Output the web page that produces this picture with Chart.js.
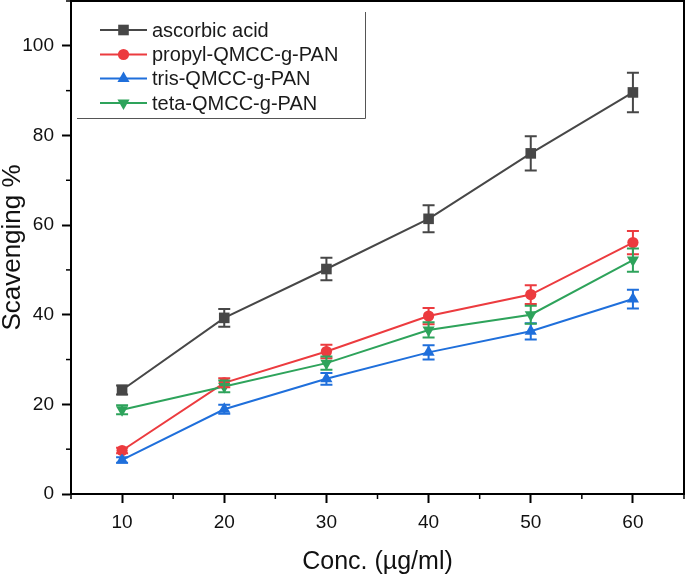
<!DOCTYPE html>
<html>
<head>
<meta charset="utf-8">
<script src="https://cdn.jsdelivr.net/npm/chart.js@4/dist/chart.umd.min.js"></script>
<style>
html,body{margin:0;padding:0;background:#fff;}
#wrap{width:685px;height:578px;}
</style>
</head>
<body>
<div id="wrap"><canvas id="c" width="685" height="578"></canvas></div>
<script>
const conc = [10, 20, 30, 40, 50, 60];
const ascorbic = [23.2, 39.3, 50.2, 61.4, 76.0, 89.6];
const ascorbicErr = [1.0, 2.0, 2.5, 3.0, 3.8, 4.4];
const propyl = [9.7, 24.8, 31.8, 39.7, 44.5, 56.1];
const propylErr = [0.6, 1.0, 1.5, 1.8, 2.1, 2.6];
const tris = [7.6, 18.9, 25.7, 31.6, 36.3, 43.5];
const trisErr = [0.6, 1.0, 1.3, 1.6, 1.8, 2.1];
const teta = [18.8, 24.0, 29.2, 36.6, 40.0, 52.2];
const tetaErr = [1.0, 1.3, 1.5, 1.7, 2.0, 2.6];
const seriesNames = ['ascorbic acid', 'propyl-QMCC-g-PAN', 'tris-QMCC-g-PAN', 'teta-QMCC-g-PAN'];
const xTitle = 'Conc. (\u00b5g/ml)';
const yTitle = 'Scavenging %';

const colors = ['#474747', '#ec3b3f', '#1f6fdb', '#2ea35b'];
const styles = ['rect', 'circle', 'triangle', 'triangle'];
const rotations = [0, 0, 0, 180];
const radii = [7.5, 5.6, 7, 7];
const values = [ascorbic, propyl, tris, teta];
const errors = [ascorbicErr, propylErr, trisErr, tetaErr];
const FONT = '"Liberation Sans", Arial, sans-serif';

const datasets = values.map((v, i) => ({
  label: seriesNames[i],
  data: conc.map((x, j) => ({x: x, y: v[j]})),
  errs: errors[i],
  borderColor: colors[i],
  backgroundColor: colors[i],
  pointBackgroundColor: colors[i],
  pointBorderColor: colors[i],
  pointStyle: styles[i],
  pointRotation: rotations[i],
  pointRadius: radii[i],
  pointBorderWidth: 0,
  borderWidth: 2,
  tension: 0,
  order: 4 - i
}));

function drawMarker(ctx, style, x, y, r, rot, color) {
  ctx.save();
  ctx.fillStyle = color;
  ctx.translate(x, y);
  ctx.rotate(rot * Math.PI / 180);
  ctx.beginPath();
  if (style === 'rect') {
    const s = Math.SQRT1_2 * r;
    ctx.rect(-s, -s, 2 * s, 2 * s);
  } else if (style === 'circle') {
    ctx.arc(0, 0, r, 0, Math.PI * 2);
  } else {
    ctx.moveTo(0, -r);
    ctx.lineTo(r * Math.sin(Math.PI * 2 / 3), -r * Math.cos(Math.PI * 2 / 3));
    ctx.lineTo(r * Math.sin(Math.PI * 4 / 3), -r * Math.cos(Math.PI * 4 / 3));
    ctx.closePath();
  }
  ctx.fill();
  ctx.restore();
}

const errorBars = {
  id: 'errorBars',
  afterDatasetsDraw(chart) {
    const ctx = chart.ctx;
    const xs = chart.scales.x, ys = chart.scales.y;
    chart.data.datasets.forEach((ds) => {
      ctx.save();
      ctx.strokeStyle = ds.borderColor;
      ctx.lineWidth = 2;
      ds.data.forEach((p, j) => {
        const e = ds.errs[j];
        const px = xs.getPixelForValue(p.x);
        const top = ys.getPixelForValue(p.y + e);
        const bot = ys.getPixelForValue(p.y - e);
        ctx.beginPath();
        ctx.moveTo(px, top); ctx.lineTo(px, bot);
        ctx.moveTo(px - 6, top); ctx.lineTo(px + 6, top);
        ctx.moveTo(px - 6, bot); ctx.lineTo(px + 6, bot);
        ctx.stroke();
      });
      ctx.restore();
    });
  }
};

const frameAndTicks = {
  id: 'frameAndTicks',
  afterDraw(chart) {
    const ctx = chart.ctx;
    const a = chart.chartArea;
    ctx.save();
    ctx.strokeStyle = '#000';
    ctx.lineWidth = 2;
    ctx.strokeRect(a.left, a.top, a.right - a.left, a.bottom - a.top);
    // minor ticks
    ctx.lineWidth = 1.5;
    const xs = chart.scales.x, ys = chart.scales.y;
    xs.ticks.forEach(t => {
      if (t.value % 10 !== 0) {
        const px = xs.getPixelForValue(t.value);
        ctx.beginPath(); ctx.moveTo(px, a.bottom); ctx.lineTo(px, a.bottom + 5); ctx.stroke();
      }
    });
    ys.ticks.forEach(t => {
      if (t.value % 20 !== 0) {
        const py = ys.getPixelForValue(t.value);
        ctx.beginPath(); ctx.moveTo(a.left, py); ctx.lineTo(a.left - 5, py); ctx.stroke();
      }
    });
    // legend
    ctx.strokeStyle = '#555';
    ctx.lineWidth = 1;
    ctx.beginPath();
    ctx.moveTo(365.5, 12); ctx.lineTo(365.5, 118.5); ctx.lineTo(77, 118.5);
    ctx.stroke();
    const rows = [30, 54.5, 78.5, 103];
    ctx.font = '20px ' + FONT;
    ctx.textBaseline = 'middle';
    ctx.textAlign = 'left';
    chart.data.datasets.forEach((ds, i) => {
      const y = rows[i];
      ctx.strokeStyle = ds.borderColor;
      ctx.lineWidth = 2;
      ctx.beginPath(); ctx.moveTo(100, y); ctx.lineTo(147, y); ctx.stroke();
      drawMarker(ctx, ds.pointStyle, 123.5, y, ds.pointRadius, ds.pointRotation, ds.borderColor);
      ctx.fillStyle = '#1a1a1a';
      ctx.fillText(ds.label, 152, y + 1);
    });
    ctx.restore();
  }
};

function noPad(s) { s.paddingTop = 0; s.paddingBottom = 0; s.paddingLeft = 0; s.paddingRight = 0; }

new Chart(document.getElementById('c'), {
  type: 'line',
  data: { datasets: datasets },
  options: {
    responsive: false,
    animation: false,
    devicePixelRatio: 1,
    layout: { autoPadding: false, padding: { top: 1, right: 1, left: 0, bottom: 0 } },
    plugins: { legend: { display: false }, tooltip: { enabled: false } },
    scales: {
      x: {
        type: 'linear', min: 5, max: 65,
        afterFit(s) { s.height = 84; noPad(s); },
        border: { display: true, color: '#000', width: 2 },
        grid: {
          drawOnChartArea: false, drawTicks: true, tickLength: 9, tickWidth: 2,
          tickColor: c => (c.tick && c.tick.value % 10 === 0) ? '#000' : 'rgba(0,0,0,0)'
        },
        ticks: {
          stepSize: 5, autoSkip: false, maxRotation: 0, padding: 8, color: '#111',
          font: { family: FONT, size: 19, lineHeight: 1.2 },
          callback: v => (v % 10 === 0 ? String(v) : '')
        },
        title: {
          display: true, text: xTitle, color: '#111',
          font: { family: FONT, size: 25, lineHeight: 1 },
          padding: { top: 0, bottom: 3 }
        }
      },
      y: {
        type: 'linear', min: 0, max: 110,
        afterFit(s) { s.width = 71; noPad(s); },
        border: { display: true, color: '#000', width: 2 },
        grid: {
          drawOnChartArea: false, drawTicks: true, tickLength: 9, tickWidth: 2,
          tickColor: c => (c.tick && c.tick.value % 20 === 0) ? '#000' : 'rgba(0,0,0,0)'
        },
        ticks: {
          stepSize: 10, autoSkip: false, padding: 8, color: '#111',
          font: { family: FONT, size: 19, lineHeight: 1.2 },
          callback: v => (v % 20 === 0 ? String(v) : '')
        },
        title: {
          display: true, text: yTitle, color: '#111',
          font: { family: FONT, size: 26, lineHeight: 1 },
          padding: { top: 0, bottom: 0 }
        }
      }
    }
  },
  plugins: [errorBars, frameAndTicks]
});
</script>
</body>
</html>
